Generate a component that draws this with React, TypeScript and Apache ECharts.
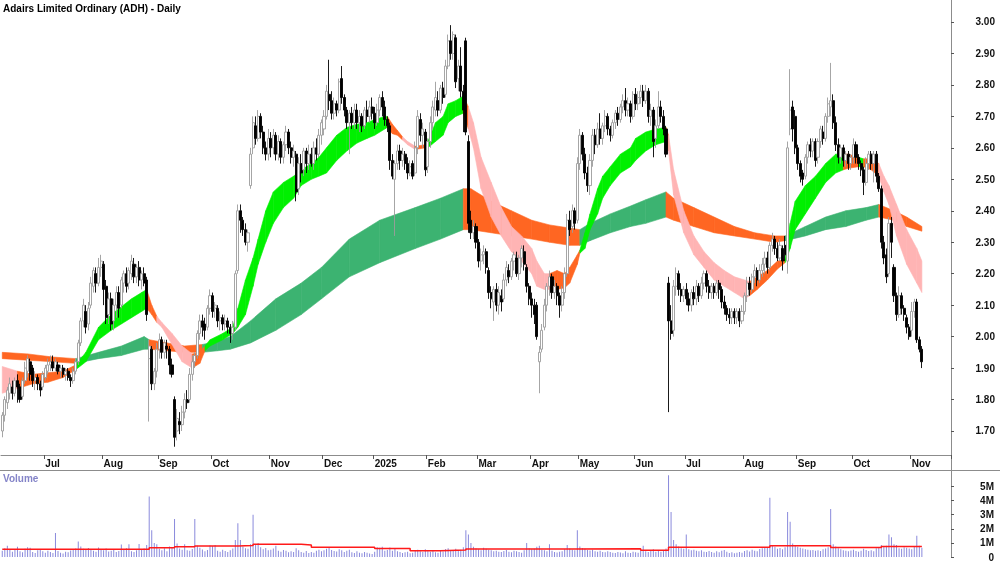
import React, { useEffect, useRef } from "react";
import * as echarts from "echarts";

// ---------- categories (ASX trading days) ----------
const START_DATE = "2024-06-05";
const END_DATE = "2025-11-07";
const HOLIDAYS = ["2024-06-10", "2024-12-25", "2024-12-26", "2025-01-01", "2025-01-27", "2025-04-18", "2025-04-21", "2025-04-25", "2025-06-09"];
const MONTH_NAMES = ["Jan", "Feb", "Mar", "Apr", "May", "Jun", "Jul", "Aug", "Sep", "Oct", "Nov", "Dec"];
const EMPTY_SLOTS = 11;

// ---------- price ticks ----------
const PRICE_TICKS = [1.7, 1.8, 1.9, 2.0, 2.1, 2.2, 2.3, 2.4, 2.5, 2.6, 2.7, 2.8, 2.9, 3.0];
const VOLUME_TICKS = [0, 1, 2, 3, 4, 5];

// ---------- daily candles [open, close, low, high] ----------
const CANDLES: number[][] = [
  [1.70,1.75,1.68,1.76],[1.75,1.80,1.73,1.81],[1.79,1.83,1.77,1.84],[1.82,1.85,1.80,1.87],[1.84,1.82,1.80,1.86],
  [1.82,1.86,1.81,1.87],[1.86,1.84,1.79,1.88],[1.84,1.80,1.79,1.85],[1.81,1.86,1.80,1.87],[1.86,1.90,1.85,1.92],
  [1.89,1.93,1.87,1.94],[1.92,1.88,1.86,1.93],[1.90,1.86,1.84,1.91],[1.86,1.87,1.83,1.89],[1.87,1.85,1.83,1.88],
  [1.85,1.83,1.81,1.86],[1.84,1.88,1.83,1.89],[1.87,1.90,1.86,1.91],[1.89,1.91,1.88,1.93],[1.91,1.92,1.89,1.94],
  [1.92,1.90,1.89,1.94],[1.90,1.92,1.89,1.93],[1.91,1.89,1.88,1.92],[1.89,1.90,1.87,1.91],[1.90,1.88,1.87,1.91],
  [1.88,1.89,1.86,1.90],[1.89,1.87,1.86,1.90],[1.87,1.86,1.84,1.88],[1.86,1.89,1.85,1.90],[1.89,1.92,1.88,1.93],
  [1.92,1.98,1.91,1.99],[1.98,2.05,1.97,2.06],[2.05,2.10,2.03,2.12],[2.08,2.03,2.01,2.10],[2.04,2.09,2.02,2.11],
  [2.10,2.17,2.09,2.19],[2.16,2.21,2.14,2.22],[2.20,2.17,2.14,2.22],[2.17,2.22,2.16,2.25],[2.22,2.24,2.19,2.26],
  [2.23,2.15,2.10,2.24],[2.16,2.06,2.04,2.18],[2.07,2.12,2.04,2.14],[2.12,2.04,2.02,2.14],[2.05,2.10,2.02,2.12],
  [2.10,2.14,2.06,2.16],[2.14,2.09,2.06,2.16],[2.10,2.18,2.09,2.19],[2.17,2.20,2.14,2.21],[2.20,2.16,2.14,2.22],
  [2.17,2.21,2.15,2.22],[2.20,2.24,2.18,2.26],[2.23,2.19,2.17,2.25],[2.19,2.22,2.17,2.23],[2.22,2.18,2.16,2.24],
  [2.18,2.20,2.15,2.21],[2.20,2.17,2.16,2.22],[2.18,2.07,2.05,2.19],[1.93,1.97,1.73,1.99],[1.96,1.85,1.83,1.97],
  [1.85,1.89,1.83,1.90],[1.89,1.96,1.87,1.98],[1.96,1.99,1.93,2.01],[1.99,1.95,1.93,2.00],[1.95,1.98,1.93,1.99],
  [1.97,1.96,1.93,1.99],[1.96,1.91,1.88,1.97],[1.91,1.88,1.87,1.93],[1.80,1.68,1.65,1.81],[1.70,1.74,1.67,1.77],
  [1.73,1.72,1.69,1.76],[1.72,1.76,1.70,1.78],[1.76,1.80,1.74,1.82],[1.80,1.79,1.77,1.83],[1.80,1.88,1.79,1.90],
  [1.88,1.92,1.86,1.94],[1.92,1.94,1.90,1.95],[1.94,2.01,1.93,2.02],[2.01,2.05,1.99,2.07],[2.05,2.03,2.00,2.07],
  [2.04,2.02,1.99,2.06],[2.03,2.09,2.02,2.10],[2.09,2.13,2.07,2.15],[2.13,2.08,2.06,2.14],[2.09,2.10,2.06,2.11],
  [2.09,2.05,2.03,2.10],[2.05,2.06,2.02,2.08],[2.06,2.04,2.02,2.07],[2.04,2.05,2.02,2.07],[2.05,2.03,2.01,2.06],
  [2.03,2.01,1.98,2.04],[2.01,2.03,1.99,2.05],[2.03,2.20,2.02,2.21],[2.21,2.40,2.20,2.42],[2.40,2.37,2.33,2.42],
  [2.37,2.34,2.32,2.38],[2.34,2.30,2.29,2.36],[2.30,2.33,2.27,2.34],[2.48,2.58,2.47,2.60],[2.60,2.68,2.58,2.70],
  [2.67,2.63,2.61,2.70],[2.63,2.70,2.62,2.72],[2.70,2.65,2.63,2.71],[2.65,2.60,2.58,2.67],[2.60,2.58,2.56,2.62],
  [2.58,2.63,2.56,2.66],[2.63,2.60,2.57,2.65],[2.60,2.64,2.58,2.66],[2.64,2.58,2.56,2.65],[2.58,2.62,2.56,2.64],
  [2.62,2.57,2.55,2.63],[2.57,2.61,2.55,2.62],[2.61,2.65,2.59,2.67],[2.65,2.60,2.58,2.66],[2.60,2.57,2.55,2.62],
  [2.57,2.59,2.54,2.61],[2.58,2.46,2.43,2.59],[2.47,2.55,2.45,2.57],[2.55,2.52,2.49,2.58],[2.53,2.59,2.51,2.60],
  [2.59,2.55,2.52,2.60],[2.55,2.58,2.53,2.61],[2.58,2.55,2.54,2.60],[2.55,2.60,2.53,2.62],[2.60,2.58,2.56,2.63],
  [2.58,2.64,2.57,2.66],[2.64,2.68,2.61,2.69],[2.66,2.70,2.64,2.72],[2.70,2.78,2.69,2.80],[2.77,2.75,2.72,2.88],
  [2.75,2.71,2.69,2.78],[2.71,2.74,2.69,2.76],[2.74,2.72,2.70,2.75],[2.72,2.81,2.71,2.82],[2.82,2.76,2.74,2.86],
  [2.76,2.72,2.70,2.77],[2.72,2.68,2.66,2.73],[2.68,2.71,2.58,2.72],[2.71,2.68,2.66,2.73],[2.68,2.72,2.66,2.74],
  [2.72,2.68,2.66,2.74],[2.68,2.70,2.65,2.72],[2.70,2.67,2.65,2.71],[2.67,2.72,2.66,2.73],[2.72,2.70,2.68,2.75],
  [2.70,2.73,2.68,2.75],[2.73,2.71,2.69,2.76],[2.71,2.68,2.66,2.73],[2.68,2.72,2.67,2.74],[2.72,2.76,2.70,2.77],
  [2.76,2.73,2.70,2.78],[2.73,2.69,2.67,2.75],[2.69,2.67,2.65,2.70],[2.67,2.56,2.53,2.68],[2.56,2.51,2.50,2.58],
  [2.50,2.55,2.32,2.56],[2.55,2.59,2.53,2.61],[2.59,2.56,2.53,2.61],[2.56,2.58,2.54,2.60],[2.58,2.55,2.53,2.59],
  [2.55,2.52,2.50,2.57],[2.52,2.54,2.51,2.56],[2.55,2.51,2.50,2.56],[2.52,2.60,2.51,2.62],[2.60,2.70,2.58,2.72],
  [2.69,2.64,2.62,2.71],[2.64,2.66,2.60,2.68],[2.65,2.53,2.51,2.66],[2.54,2.62,2.52,2.63],[2.62,2.68,2.60,2.70],
  [2.68,2.73,2.66,2.75],[2.72,2.76,2.70,2.81],[2.75,2.72,2.70,2.78],[2.72,2.79,2.71,2.80],[2.79,2.76,2.74,2.81],
  [2.77,2.86,2.76,2.88],[2.86,2.94,2.85,2.96],[2.94,2.90,2.88,2.99],[2.90,2.96,2.88,2.97],[2.95,2.81,2.79,2.96],
  [2.82,2.86,2.78,2.88],[2.86,2.78,2.76,2.92],[2.78,2.72,2.65,2.80],[2.94,2.65,2.64,2.95],[2.62,2.36,2.33,2.64],
  [2.37,2.33,2.31,2.40],[2.33,2.35,2.31,2.37],[2.35,2.30,2.28,2.36],[2.30,2.24,2.22,2.31],[2.24,2.26,2.21,2.28],
  [2.26,2.27,2.23,2.29],[2.27,2.22,2.20,2.28],[2.21,2.14,2.12,2.22],[2.14,2.12,2.09,2.16],[2.11,2.15,2.05,2.16],
  [2.15,2.10,2.08,2.17],[2.10,2.14,2.07,2.16],[2.13,2.11,2.08,2.15],[2.12,2.18,2.11,2.20],[2.18,2.22,2.16,2.24],
  [2.21,2.19,2.17,2.23],[2.19,2.24,2.18,2.25],[2.24,2.26,2.21,2.27],[2.25,2.20,2.19,2.27],[2.20,2.25,2.18,2.26],
  [2.25,2.28,2.22,2.29],[2.27,2.23,2.21,2.29],[2.22,2.16,2.14,2.23],[2.16,2.12,2.10,2.17],[2.12,2.10,2.06,2.14],
  [2.10,2.07,2.04,2.12],[2.10,2.00,1.99,2.11],[1.92,1.95,1.82,1.97],[1.96,2.02,1.95,2.04],[2.03,2.10,2.02,2.12],
  [2.10,2.16,2.08,2.17],[2.16,2.19,2.13,2.21],[2.19,2.14,2.12,2.20],[2.14,2.16,2.12,2.18],[2.16,2.13,2.10,2.17],
  [2.13,2.10,2.06,2.14],[2.10,2.14,2.08,2.16],[2.14,2.20,2.12,2.22],[2.20,2.37,2.19,2.39],[2.37,2.34,2.32,2.40],
  [2.35,2.40,2.33,2.42],[2.40,2.36,2.34,2.41],[2.37,2.55,2.36,2.57],[2.55,2.64,2.53,2.66],[2.64,2.58,2.56,2.65],
  [2.58,2.52,2.50,2.60],[2.52,2.48,2.46,2.54],[2.48,2.56,2.45,2.58],[2.56,2.64,2.54,2.66],[2.64,2.61,2.58,2.66],
  [2.61,2.66,2.60,2.68],[2.66,2.63,2.61,2.71],[2.63,2.67,2.61,2.68],[2.67,2.70,2.65,2.72],[2.70,2.66,2.64,2.71],
  [2.66,2.64,2.62,2.67],[2.64,2.68,2.63,2.69],[2.68,2.71,2.66,2.72],[2.71,2.69,2.67,2.73],[2.69,2.73,2.68,2.74],
  [2.73,2.75,2.71,2.77],[2.75,2.72,2.70,2.79],[2.72,2.74,2.70,2.76],[2.74,2.70,2.68,2.75],[2.70,2.77,2.69,2.78],
  [2.77,2.74,2.72,2.79],[2.74,2.76,2.72,2.78],[2.76,2.78,2.74,2.80],[2.78,2.75,2.73,2.80],[2.75,2.78,2.74,2.80],
  [2.78,2.70,2.68,2.79],[2.70,2.72,2.67,2.74],[2.72,2.62,2.57,2.73],[2.63,2.67,2.60,2.69],[2.67,2.73,2.66,2.78],
  [2.73,2.70,2.68,2.75],[2.70,2.66,2.64,2.72],[2.66,2.58,2.57,2.67],[2.17,2.05,1.76,2.19],[2.05,2.01,1.99,2.10],
  [2.02,2.16,2.00,2.18],[2.16,2.20,2.13,2.22],[2.20,2.15,2.13,2.21],[2.15,2.13,2.11,2.17],[2.13,2.15,2.11,2.16],
  [2.15,2.12,2.10,2.17],[2.12,2.10,2.08,2.14],[2.10,2.14,2.08,2.15],[2.14,2.12,2.10,2.16],[2.12,2.16,2.10,2.18],
  [2.16,2.13,2.11,2.17],[2.13,2.17,2.12,2.19],[2.17,2.20,2.15,2.21],[2.20,2.16,2.14,2.21],[2.16,2.14,2.12,2.18],
  [2.14,2.16,2.12,2.17],[2.16,2.14,2.12,2.17],[2.14,2.17,2.13,2.18],[2.17,2.15,2.12,2.18],[2.15,2.11,2.09,2.16],
  [2.11,2.09,2.07,2.13],[2.09,2.07,2.05,2.10],[2.07,2.06,2.04,2.09],[2.06,2.08,2.04,2.09],[2.08,2.06,2.04,2.09],
  [2.06,2.08,2.04,2.09],[2.08,2.05,2.03,2.09],[2.05,2.08,2.04,2.10],[2.08,2.13,2.07,2.14],[2.13,2.17,2.11,2.19],
  [2.17,2.15,2.13,2.19],[2.15,2.19,2.14,2.20],[2.19,2.21,2.17,2.23],[2.21,2.18,2.16,2.22],[2.18,2.21,2.17,2.23],
  [2.21,2.23,2.19,2.25],[2.23,2.25,2.20,2.27],[2.25,2.22,2.20,2.27],[2.22,2.29,2.21,2.30],[2.29,2.31,2.27,2.33],
  [2.31,2.28,2.26,2.32],[2.28,2.25,2.24,2.30],[2.25,2.29,2.24,2.31],[2.28,2.24,2.21,2.29],[2.29,2.26,2.24,2.32],
  [2.24,2.60,2.20,2.62],[2.66,2.72,2.64,2.85],[2.73,2.66,2.62,2.75],[2.70,2.60,2.58,2.72],[2.60,2.55,2.53,2.61],
  [2.55,2.51,2.49,2.56],[2.52,2.50,2.48,2.53],[2.51,2.57,2.50,2.58],[2.57,2.61,2.55,2.62],[2.61,2.59,2.57,2.63],
  [2.59,2.62,2.57,2.63],[2.62,2.56,2.54,2.63],[2.57,2.62,2.55,2.63],[2.62,2.66,2.60,2.67],[2.65,2.63,2.61,2.67],
  [2.63,2.70,2.62,2.71],[2.70,2.74,2.68,2.76],[2.73,2.75,2.70,2.87],[2.75,2.68,2.66,2.77],[2.68,2.61,2.59,2.70],
  [2.61,2.57,2.55,2.63],[2.57,2.60,2.55,2.61],[2.60,2.56,2.54,2.61],[2.56,2.58,2.54,2.59],[2.58,2.55,2.53,2.59],
  [2.55,2.57,2.53,2.58],[2.57,2.61,2.55,2.63],[2.61,2.57,2.55,2.62],[2.57,2.55,2.53,2.58],[2.55,2.53,2.51,2.56],
  [2.53,2.49,2.45,2.54],[2.49,2.55,2.48,2.57],[2.55,2.58,2.53,2.59],[2.58,2.55,2.53,2.59],[2.55,2.58,2.49,2.59],
  [2.58,2.51,2.49,2.59],[2.51,2.47,2.46,2.52],[2.47,2.30,2.28,2.48],[2.30,2.25,2.23,2.32],[2.26,2.19,2.17,2.28],
  [2.20,2.36,2.19,2.38],[2.36,2.30,2.25,2.38],[2.22,2.13,2.11,2.23],[2.13,2.07,2.05,2.14],[2.07,2.13,2.06,2.16],
  [2.13,2.09,2.07,2.14],[2.09,2.07,2.05,2.10],[2.06,2.03,2.01,2.07],[2.03,2.00,1.99,2.04],[2.02,2.08,2.00,2.11],
  [2.08,2.11,2.06,2.12],[2.11,1.99,1.98,2.12],[1.99,1.96,1.95,2.00],[1.96,1.92,1.90,1.97],
];

// ---------- daily volume (millions) ----------
const VOLUME: number[] = [
  0.45,0.62,0.80,0.55,0.38,0.50,0.72,0.41,0.33,0.58, 0.70,0.66,0.35,0.29,0.47,0.52,0.40,0.31,0.44,0.36,
  0.28,1.70,0.42,0.30,0.25,0.38,0.33,0.46,0.52,0.61, 1.10,0.74,0.58,0.49,0.63,0.55,0.44,0.37,0.68,0.52,
  0.47,0.60,0.39,0.44,0.56,0.35,0.42,0.88,0.50,0.62, 0.90,0.41,0.36,0.48,0.92,0.55,0.60,0.85,4.30,1.90,
  1.00,0.90,0.58,0.47,0.62,0.40,0.75,0.69,2.70,0.95, 0.60,0.52,0.90,0.48,0.44,0.57,2.70,0.80,0.66,0.53,
  0.41,0.49,0.82,0.78,0.85,0.45,0.38,0.52,0.43,0.36, 0.48,0.60,1.20,2.40,1.20,0.75,0.62,0.58,0.90,3.00,
  0.85,1.00,0.70,0.55,0.64,0.48,0.52,0.60,0.80,0.45, 0.38,0.50,0.44,0.33,0.41,0.36,0.62,0.48,0.35,0.30,
  0.42,0.28,0.36,0.31,0.45,0.52,0.40,0.48,0.58,0.66, 0.50,0.42,0.39,0.55,0.47,0.36,0.44,0.52,0.33,0.29,
  0.40,0.31,0.27,0.35,0.30,0.25,0.22,0.38,0.70,0.66, 0.72,0.45,0.50,0.68,0.44,0.62,0.40,0.35,0.29,0.33,
  0.38,0.27,0.31,0.45,0.52,0.40,0.36,0.55,0.41,0.37, 0.44,0.33,0.30,0.48,0.39,0.56,0.62,0.50,0.45,0.58,
  0.46,0.52,0.70,1.90,1.60,1.00,0.72,0.60,0.55,0.48, 0.66,0.58,0.52,0.47,0.40,0.44,0.38,0.35,0.42,0.50,
  0.37,0.33,0.45,0.41,0.36,0.30,0.48,1.00,0.62,0.55, 0.58,0.72,0.80,0.52,0.47,0.40,0.90,0.44,0.36,0.32,
  0.38,0.41,0.55,0.85,0.60,0.52,0.47,1.90,0.75,0.64, 0.58,0.50,0.46,0.52,0.41,0.37,0.44,0.36,0.33,0.40,
  0.35,0.30,0.28,0.36,0.32,0.27,0.40,0.31,0.29,0.38, 0.34,0.30,0.45,0.80,0.41,0.36,0.48,0.55,0.38,0.42,
  0.37,0.45,0.60,5.80,3.20,1.20,0.90,0.75,0.62,0.58, 1.60,0.55,0.48,0.52,0.44,0.40,0.47,0.38,0.35,0.42,
  0.36,0.31,0.40,0.33,0.45,0.50,0.38,0.29,0.34,0.27, 0.31,0.36,0.30,0.42,0.48,0.39,0.52,0.45,0.40,0.56,
  0.62,0.70,0.66,4.20,0.80,0.72,0.58,0.64,0.55,0.70, 3.20,2.50,0.95,0.80,0.72,0.66,0.60,0.55,0.52,0.48,
  0.50,0.44,0.47,0.42,0.55,0.60,0.70,3.40,0.90,0.75, 0.62,0.55,0.48,0.44,0.40,0.46,0.52,0.43,0.38,0.45,
  0.58,0.50,0.42,0.47,0.40,0.62,0.70,0.85,0.72,0.80, 1.60,1.40,0.90,0.85,0.62,0.58,0.70,0.66,0.60,0.55,
  0.72,1.50,0.80,0.65,
];

// ---------- volume average line: [candle index, millions] ----------
const VOLUME_AVG: number[][] = [
  [0,0.55],[58,0.65],[68,0.72],[76,0.78],[93,0.82],[99,0.90],[118,0.85],[122,0.70],[147,0.60],[161,0.45],
  [173,0.50],[183,0.56],[225,0.58],[252,0.48],[263,0.70],[303,0.80],[327,0.68],[347,0.75],[363,0.75],
];

// ---------- moving-average ribbons: [candle index, upper, lower, colour key of following stretch] ----------
const SHORT_BAND: (number | string)[][] = [
  [0,1.905,1.82,"P"],[6,1.89,1.835,"O"],[12,1.88,1.85,"O"],[18,1.885,1.855,"O"],[24,1.89,1.87,"O"],
  [29,1.91,1.895,"G"],[33,1.95,1.92,"G"],[38,2.03,1.99,"G"],[43,2.07,2.02,"G"],[47,2.095,2.04,"G"],
  [51,2.12,2.06,"G"],[55,2.14,2.08,"G"],[57,2.15,2.09,"O"],[59,2.10,2.07,"O"],[61,2.065,2.045,"P"],
  [63,2.045,2.03,"P"],[67,2.01,1.975,"P"],[71,1.97,1.92,"P"],[75,1.945,1.90,"O"],[78,1.95,1.915,"O"],
  [80,1.97,1.955,"G"],[82,1.99,1.97,"G"],[87,2.01,1.99,"G"],[91,2.03,2.01,"G"],[93,2.09,2.03,"G"],
  [96,2.18,2.07,"G"],[99,2.25,2.16,"G"],[101,2.31,2.23,"G"],[104,2.40,2.30,"G"],[107,2.46,2.36,"G"],
  [111,2.49,2.41,"G"],[115,2.51,2.44,"G"],[118,2.53,2.48,"G"],[122,2.55,2.50,"G"],[125,2.57,2.51,"G"],
  [128,2.60,2.52,"G"],[132,2.64,2.56,"G"],[136,2.665,2.59,"G"],[140,2.675,2.615,"G"],[144,2.68,2.63,"G"],
  [147,2.69,2.64,"G"],[151,2.70,2.66,"G"],[152,2.70,2.665,"O"],[154,2.675,2.645,"O"],[156,2.655,2.64,"O"],
  [158,2.635,2.625,"P"],[160,2.62,2.61,"P"],[163,2.605,2.595,"O"],[167,2.61,2.60,"O"],[168,2.62,2.60,"G"],
  [171,2.68,2.62,"G"],[174,2.70,2.64,"G"],[176,2.74,2.68,"G"],[179,2.75,2.70,"G"],[182,2.765,2.71,"O"],
  [184,2.73,2.66,"P"],[186,2.68,2.60,"P"],[189,2.57,2.47,"P"],[193,2.49,2.38,"P"],[197,2.41,2.32,"P"],
  [201,2.35,2.27,"P"],[205,2.32,2.24,"P"],[209,2.28,2.20,"P"],[211,2.24,2.16,"P"],[214,2.20,2.15,"P"],
  [216,2.20,2.15,"O"],[219,2.21,2.15,"O"],[222,2.20,2.155,"O"],[224,2.22,2.17,"O"],[227,2.26,2.23,"O"],
  [228,2.275,2.265,"G"],[230,2.33,2.28,"G"],[232,2.39,2.34,"G"],[235,2.47,2.39,"G"],[237,2.51,2.44,"G"],
  [240,2.54,2.48,"G"],[244,2.58,2.52,"G"],[248,2.60,2.54,"G"],[250,2.63,2.56,"G"],[254,2.65,2.59,"G"],
  [258,2.66,2.61,"G"],[262,2.665,2.62,"O"],[263,2.64,2.59,"P"],[265,2.53,2.45,"P"],[269,2.40,2.33,"P"],
  [273,2.32,2.26,"P"],[277,2.27,2.22,"P"],[281,2.235,2.18,"P"],[285,2.21,2.16,"P"],[289,2.19,2.14,"P"],
  [293,2.18,2.12,"P"],[295,2.175,2.13,"O"],[298,2.19,2.15,"O"],[302,2.21,2.18,"O"],[306,2.24,2.215,"O"],
  [309,2.245,2.235,"G"],[311,2.36,2.28,"G"],[313,2.43,2.34,"G"],[317,2.48,2.39,"G"],[321,2.51,2.44,"G"],
  [325,2.55,2.49,"G"],[329,2.58,2.52,"G"],[332,2.58,2.53,"O"],[334,2.58,2.535,"O"],[338,2.57,2.54,"G"],
  [340,2.565,2.54,"O"],[343,2.565,2.53,"O"],[346,2.55,2.51,"P"],[348,2.51,2.46,"P"],[350,2.48,2.42,"P"],
  [353,2.42,2.32,"P"],[357,2.34,2.23,"P"],[361,2.28,2.17,"P"],[363,2.24,2.14,"P"],
];

const LONG_BAND: (number | string)[][] = [
  [0,1.95,1.93,"O"],[10,1.945,1.925,"O"],[20,1.935,1.92,"O"],[29,1.93,1.915,"L"],[38,1.95,1.93,"L"],
  [47,1.97,1.94,"L"],[56,2.00,1.96,"L"],[58,1.99,1.96,"O"],[65,1.98,1.955,"O"],[72,1.97,1.95,"O"],
  [79,1.975,1.95,"L"],[85,1.985,1.955,"L"],[90,2.00,1.96,"L"],[98,2.05,1.98,"L"],[108,2.12,2.02,"L"],
  [118,2.17,2.07,"L"],[126,2.22,2.12,"L"],[137,2.31,2.19,"L"],[149,2.37,2.235,"L"],[163,2.41,2.28,"L"],
  [173,2.44,2.31,"L"],[182,2.47,2.34,"O"],[185,2.47,2.34,"O"],[193,2.43,2.33,"O"],[201,2.40,2.32,"O"],
  [209,2.37,2.31,"O"],[216,2.355,2.30,"O"],[224,2.345,2.29,"O"],[228,2.34,2.29,"L"],[232,2.36,2.305,"L"],
  [240,2.39,2.33,"L"],[248,2.415,2.35,"L"],[254,2.435,2.36,"L"],[262,2.46,2.38,"O"],[265,2.44,2.37,"O"],
  [273,2.41,2.35,"O"],[281,2.38,2.33,"O"],[289,2.35,2.32,"O"],[297,2.33,2.31,"O"],[305,2.32,2.30,"O"],
  [309,2.32,2.305,"L"],[317,2.35,2.32,"L"],[325,2.38,2.34,"L"],[333,2.40,2.35,"L"],[341,2.41,2.37,"L"],
  [346,2.42,2.38,"O"],[352,2.40,2.37,"O"],[357,2.38,2.35,"O"],[363,2.35,2.335,"O"],
];

const BAND_COLORS: Record<string, string> = {
  G: "#00f000",
  P: "#ffb4b4",
  O: "#ff6622",
  L: "#3cb371",
};

const FONT = "'Liberation Sans', Arial, Helvetica, sans-serif";

function buildCategories() {
  const out: string[] = [];
  const d = new Date(START_DATE + "T00:00:00Z");
  const end = new Date(END_DATE + "T00:00:00Z");
  while (d.getTime() <= end.getTime()) {
    const wd = d.getUTCDay();
    const s = d.toISOString().slice(0, 10);
    if (wd !== 0 && wd !== 6 && HOLIDAYS.indexOf(s) < 0) out.push(s);
    d.setUTCDate(d.getUTCDate() + 1);
  }
  return out;
}

function bandSeries(samples: (number | string)[][]) {
  return {
    type: "custom",
    xAxisIndex: 0,
    yAxisIndex: 0,
    silent: true,
    clip: true,
    data: samples.map((s) => [s[0], s[1], s[2]]),
    encode: { x: 0, y: [1, 2] },
    renderItem: (params: any, api: any) => {
      const k = params.dataIndex;
      if (k >= samples.length - 1) return { type: "group", children: [] };
      const a = samples[k];
      const b = samples[k + 1];
      const p1 = api.coord([a[0], a[1]]);
      const p2 = api.coord([b[0], b[1]]);
      const p3 = api.coord([b[0], b[2]]);
      const p4 = api.coord([a[0], a[2]]);
      const c = BAND_COLORS[a[3] as string];
      return {
        type: "polygon",
        shape: { points: [p1, p2, p3, p4] },
        style: { fill: c, stroke: c, lineWidth: 0.6 },
      };
    },
  };
}

export default function App() {
  const ref = useRef<HTMLDivElement>(null);
  useEffect(() => {
    if (!ref.current) return;
    const chart = echarts.init(ref.current, undefined, { renderer: "svg" });
    const dates = buildCategories();
    const cats = dates.concat(Array.from({ length: EMPTY_SLOTS }, (_, i) => " ".repeat(i + 1)));
    const monthStart: boolean[] = cats.map((c, i) => {
      if (i === 0 || i >= dates.length) return false;
      return dates[i].slice(5, 7) !== dates[i - 1].slice(5, 7);
    });
    const labelOf = (i: number) => {
      const m = parseInt(dates[i].slice(5, 7), 10) - 1;
      return m === 0 ? dates[i].slice(0, 4) : MONTH_NAMES[m];
    };
    const axisGrey = "#8c8c8c";

    chart.setOption({
      animation: false,
      textStyle: { fontFamily: FONT },
      grid: [
        { left: 1, right: 49, top: 0, height: 455 },
        { left: 1, right: 49, top: 471, height: 88 },
      ],
      xAxis: [
        {
          type: "category",
          gridIndex: 0,
          data: cats,
          boundaryGap: true,
          axisLine: { show: true, lineStyle: { color: axisGrey, width: 1 } },
          axisTick: { show: true, interval: (i: number) => monthStart[i], length: 4, lineStyle: { color: "#555" } },
          axisLabel: {
            show: true,
            interval: (i: number) => monthStart[i],
            formatter: (_v: string, i: number) => labelOf(i),
            align: "left",
            margin: 3,
            fontSize: 10,
            fontWeight: "bold",
            color: "#111",
            fontFamily: FONT,
          },
          splitLine: { show: false },
        },
        {
          type: "category",
          gridIndex: 1,
          data: cats,
          boundaryGap: true,
          axisLine: { show: false },
          axisTick: { show: false },
          axisLabel: { show: false },
          splitLine: { show: false },
        },
      ],
      yAxis: [
        {
          type: "value",
          gridIndex: 0,
          position: "right",
          min: 1.6237,
          max: 3.0699,
          axisLine: { show: true, lineStyle: { color: axisGrey } },
          axisTick: { show: true, length: 3, customValues: PRICE_TICKS, lineStyle: { color: "#555" } },
          axisLabel: {
            customValues: PRICE_TICKS,
            formatter: (v: number) => v.toFixed(2),
            align: "right",
            margin: 44,
            fontSize: 10,
            fontWeight: "bold",
            color: "#111",
            fontFamily: FONT,
          },
          splitLine: { show: false },
        },
        {
          type: "value",
          gridIndex: 1,
          position: "right",
          min: 0,
          max: 6.1,
          axisLine: { show: true, lineStyle: { color: axisGrey } },
          axisTick: { show: true, length: 3, customValues: VOLUME_TICKS, lineStyle: { color: "#555" } },
          axisLabel: {
            customValues: VOLUME_TICKS,
            formatter: (v: number) => (v === 0 ? "0" : v + "M"),
            align: "right",
            margin: 43,
            fontSize: 10,
            fontWeight: "bold",
            color: "#111",
            fontFamily: FONT,
          },
          splitLine: { show: false },
        },
      ],
      graphic: [
        {
          type: "text",
          left: 3,
          top: 3,
          style: { text: "Adairs Limited Ordinary (ADH) - Daily", fontSize: 10, fontWeight: "bold", fill: "#000", fontFamily: FONT },
        },
        {
          type: "text",
          left: 3,
          top: 473,
          style: { text: "Volume", fontSize: 10, fontWeight: "bold", fill: "#8484c8", fontFamily: FONT },
        },
        { type: "line", shape: { x1: 0, y1: 470.5, x2: 1000, y2: 470.5 }, style: { stroke: axisGrey, lineWidth: 1 } },
        { type: "line", shape: { x1: 951.5, y1: 455, x2: 951.5, y2: 471 }, style: { stroke: axisGrey, lineWidth: 1 } },
      ],
      series: [
        bandSeries(LONG_BAND),
        bandSeries(SHORT_BAND),
        {
          type: "candlestick",
          xAxisIndex: 0,
          yAxisIndex: 0,
          data: CANDLES,
          barWidth: 2.6,
          itemStyle: {
            color: "#ffffff",
            color0: "#000000",
            borderColor: "#9c9c9c",
            borderColor0: "#000000",
            borderWidth: 0.9,
          },
        },
        {
          type: "bar",
          xAxisIndex: 1,
          yAxisIndex: 1,
          data: VOLUME,
          barWidth: 1,
          itemStyle: { color: "#8a8adc" },
        },
        {
          type: "line",
          xAxisIndex: 1,
          yAxisIndex: 1,
          data: VOLUME_AVG,
          step: "end",
          symbol: "none",
          lineStyle: { color: "#ff1a1a", width: 1.5 },
        },
      ],
    });
    return () => chart.dispose();
  }, []);
  return <div ref={ref} style={{ position: "fixed", left: 0, top: 0, width: 1000, height: 562 }} />;
}
